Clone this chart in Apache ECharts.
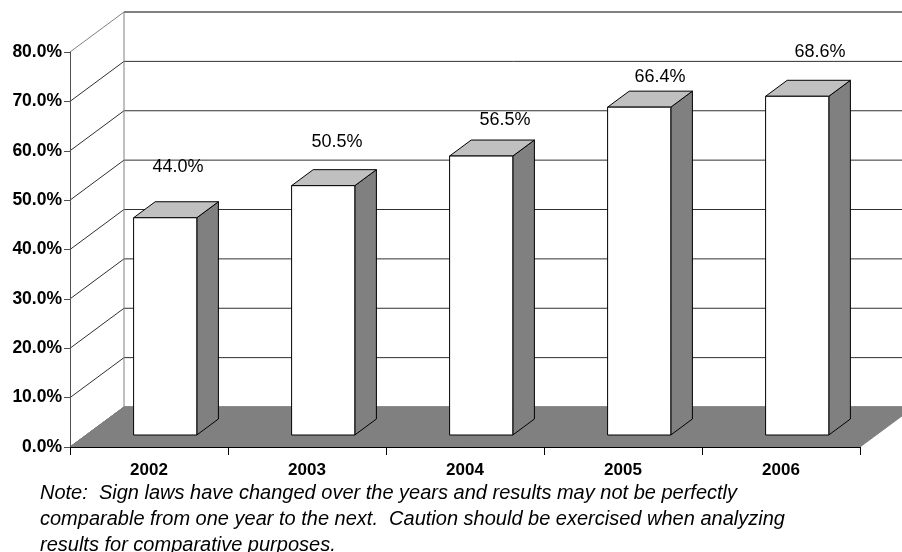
<!DOCTYPE html>
<html>
<head>
<meta charset="utf-8">
<script src="https://cdn.jsdelivr.net/npm/echarts@6/dist/echarts.min.js"></script>
<style>
  html, body { margin: 0; padding: 0; background: #ffffff; }
  #chart { width: 902px; height: 552px; }
</style>
</head>
<body>
<div id="chart"></div>
<script>
// ---- data ----
const years = ['2002', '2003', '2004', '2005', '2006'];
const shares = [44.0, 50.5, 56.5, 66.4, 68.6];
const yTicks = [0, 10, 20, 30, 40, 50, 60, 70, 80];
const yTickLabels = ['0.0%', '10.0%', '20.0%', '30.0%', '40.0%', '50.0%', '60.0%', '70.0%', '80.0%'];
const noteLines = [
  'Note:  Sign laws have changed over the years and results may not be perfectly',
  'comparable from one year to the next.  Caution should be exercised when analyzing',
  'results for comparative purposes.'
];

// ---- 3-D box geometry (pixels / fractions) ----
const DEPTH_X = 54;          // horizontal shift from front plane to back wall
const DEPTH_Y = -40;         // vertical shift from front plane to back wall
const BAR_FRONT = 0.3;       // bar front face, as a fraction of depth
const BAR_BACK = 0.7;        // bar back face, as a fraction of depth
const BAR_HALF = 0.2;        // half bar width, as a fraction of the category band
const labelNudge = [[2, -43], [3, -36], [13, -28], [10, -22], [12, -36]];

const FONT = '"Liberation Sans", Arial, sans-serif';
const Y_MAX = yTicks[yTicks.length - 1];

const chart = echarts.init(document.getElementById('chart'), null, { renderer: 'canvas' });

// back wall frame and floor
function renderFrame(params, api) {
  const cs = params.coordSys;
  const x0 = cs.x, x1 = cs.x + cs.width;
  const yb = api.coord([0, 0])[1];
  const yt = api.coord([0, Y_MAX])[1];
  return {
    type: 'group',
    children: [
      { // back wall left edge
        type: 'line',
        shape: { x1: x0 + DEPTH_X, y1: yt + DEPTH_Y, x2: x0 + DEPTH_X, y2: yb + DEPTH_Y },
        style: { stroke: '#808080', lineWidth: 1 }
      },
      { // floor
        type: 'polygon',
        z2: 5,
        shape: { points: [[x0, yb], [x1, yb], [x1 + DEPTH_X, yb + DEPTH_Y], [x0 + DEPTH_X, yb + DEPTH_Y]] },
        style: { fill: '#808080', stroke: '#808080', lineWidth: 1 }
      }
    ]
  };
}

// gridlines on the left wall and the back wall
function renderGrid(params, api) {
  const cs = params.coordSys;
  const v = api.value(1);
  const p = api.coord([0, v]);
  const x0 = cs.x, x1 = cs.x + cs.width;
  const isTop = v === Y_MAX;
  const col = isTop ? '#808080' : '#303030';
  return {
    type: 'group',
    children: [
      {
        type: 'line',
        shape: { x1: x0, y1: p[1], x2: x0 + DEPTH_X, y2: p[1] + DEPTH_Y },
        style: { stroke: col, lineWidth: 1 }
      },
      {
        type: 'line',
        shape: { x1: x0 + DEPTH_X, y1: p[1] + DEPTH_Y, x2: x1 + DEPTH_X, y2: p[1] + DEPTH_Y },
        style: { stroke: col, lineWidth: isTop ? 2 : 1 }
      }
    ]
  };
}

// one 3-D column with its value label
function renderBar(params, api) {
  const i = api.value(0);
  const v = api.value(1);
  const band = api.size([1, 0])[0];
  const top = api.coord([i, v]);
  const base = api.coord([i, 0]);
  const fx = DEPTH_X * BAR_FRONT, fy = DEPTH_Y * BAR_FRONT;
  const ddx = DEPTH_X * (BAR_BACK - BAR_FRONT), ddy = DEPTH_Y * (BAR_BACK - BAR_FRONT);
  const xl = top[0] - band * BAR_HALF + fx;
  const xr = top[0] + band * BAR_HALF + fx;
  const yt = top[1] + fy;
  const yb = base[1] + fy;
  const edge = { stroke: '#000000', lineWidth: 1, lineJoin: 'miter' };
  const nudge = labelNudge[params.dataIndex];
  return {
    type: 'group',
    children: [
      {
        type: 'polygon',
        shape: { points: [[xr, yt], [xr + ddx, yt + ddy], [xr + ddx, yb + ddy], [xr, yb]] },
        style: Object.assign({ fill: '#808080' }, edge)
      },
      {
        type: 'polygon',
        shape: { points: [[xl, yt], [xr, yt], [xr + ddx, yt + ddy], [xl + ddx, yt + ddy]] },
        style: Object.assign({ fill: '#c0c0c0' }, edge)
      },
      {
        type: 'polygon',
        shape: { points: [[xl, yt], [xr, yt], [xr, yb], [xl, yb]] },
        style: Object.assign({ fill: '#ffffff' }, edge)
      },
      {
        type: 'text',
        style: {
          text: v.toFixed(1) + '%',
          x: top[0] + DEPTH_X * 0.5 + nudge[0],
          y: top[1] + DEPTH_Y * 0.5 + nudge[1],
          align: 'center',
          verticalAlign: 'middle',
          fontSize: 18,
          fontFamily: FONT,
          fill: '#000000'
        }
      }
    ]
  };
}

chart.setOption({
  animation: false,
  backgroundColor: '#ffffff',
  title: {
    text: noteLines.join('\n'),
    left: 40,
    top: 480,
    textStyle: {
      fontFamily: FONT,
      fontStyle: 'italic',
      fontWeight: 'normal',
      fontSize: 20,
      lineHeight: 26,
      color: '#000000'
    },
    padding: 0
  },
  grid: { left: 70, right: 42, top: 52, bottom: 105, outerBoundsMode: 'none', containLabel: false },
  xAxis: {
    type: 'category',
    data: years,
    z: 10,
    axisLine: { show: true, lineStyle: { color: '#000000', width: 1 } },
    axisTick: { show: true, length: 8, lineStyle: { color: '#000000' } },
    axisLabel: {
      margin: 15,
      fontFamily: FONT,
      fontWeight: 'bold',
      fontSize: 17,
      color: '#000000'
    },
    splitLine: { show: false }
  },
  yAxis: {
    type: 'value',
    min: 0,
    max: Y_MAX,
    interval: 10,
    z: 10,
    axisLine: { show: true, lineStyle: { color: '#505050', width: 1 } },
    axisTick: { show: true, length: 6, lineStyle: { color: '#505050' } },
    axisLabel: {
      margin: 8,
      fontFamily: FONT,
      fontWeight: 'bold',
      fontSize: 17.5,
      color: '#000000',
      formatter: function (val) { return yTickLabels[yTicks.indexOf(val)]; }
    },
    splitLine: { show: false }
  },
  series: [
    {
      type: 'custom',
      z: 1,
      renderItem: renderGrid,
      data: yTicks.map(function (t) { return [0, t]; }),
      silent: true
    },
    {
      type: 'custom',
      z: 2,
      renderItem: renderFrame,
      data: [[0, 0]],
      silent: true
    },
    {
      type: 'custom',
      z: 3,
      renderItem: renderBar,
      data: shares.map(function (s, i) { return [i, s]; }),
      silent: true
    }
  ]
});
</script>
</body>
</html>
